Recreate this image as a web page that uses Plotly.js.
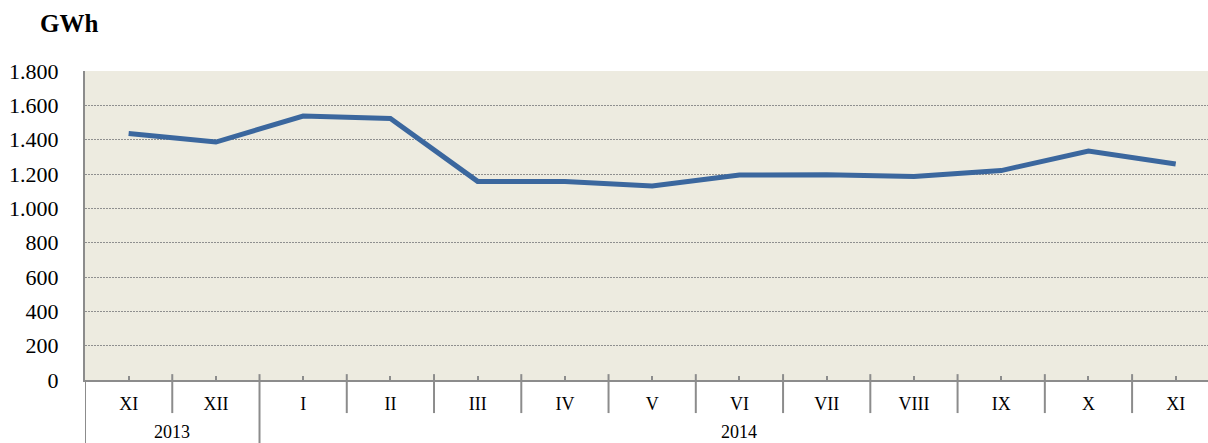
<!DOCTYPE html>
<html><head><meta charset="utf-8">
<script src="https://cdn.plot.ly/plotly-3.0.1.min.js"></script>
<style>html,body{margin:0;padding:0;background:#fff;overflow:hidden}#chart{width:1208px;height:443px}</style>
</head><body><div id="chart"></div>
<script>
const months = ['XI','XII','I','II','III','IV','V','VI','VII','VIII','IX','X','XI'];
const years = ['2013','2014'];
const yearSpans = [[0,1],[2,12]];
const values = [1436,1386,1538,1524,1157,1157,1130,1194,1196,1185,1220,1334,1258];
const yTicks = [0,200,400,600,800,1000,1200,1400,1600,1800];

const idx = months.map((m,i)=>i);
const font = '"Liberation Serif", "Times New Roman", serif';

const shapes = [];
for (let i = 0; i < months.length - 1; i++) {
  const isYear = yearSpans.some(s => s[1] === i);
  shapes.push({type:'line', xref:'x', yref:'paper', x0:i+0.5, x1:i+0.5,
    y0: 0.019, y1: isYear ? -0.21 : -0.107, line:{color:'#8c8c8c', width:2}});
}
shapes.push({type:'line', xref:'x', yref:'paper', x0:-0.5, x1:-0.5, y0:0, y1:-0.21, line:{color:'#8c8c8c', width:2}});

const annotations = years.map((y,k)=>({
  text:y, xref:'x', yref:'paper', x:(yearSpans[k][0]+yearSpans[k][1])/2, y:-0.2035,
  yanchor:'bottom', showarrow:false, borderpad:0, font:{family:font, size:18, color:'#000'}
}));

Plotly.newPlot('chart', [{
  x: idx, y: values, type:'scatter', mode:'lines',
  line:{color:'#3B679E', width:5}, hoverinfo:'skip'
}], {
  width:1208, height:443,
  margin:{l:85, r:0, t:71, b:63},
  paper_bgcolor:'#ffffff', plot_bgcolor:'#EDEBE0',
  separators:',.',
  showlegend:false,
  title:{text:'<b>GWh</b>', x:40/1208, xanchor:'left', xref:'container', y:1-23/443, yanchor:'middle', yref:'container',
    font:{family:font, size:25, color:'#000'}},
  xaxis:{range:[-0.5, 12.37], tickvals:idx, ticktext:months, ticks:'inside', ticklen:4, tickwidth:2,
    tickcolor:'#8c8c8c', showgrid:false, zeroline:false, showline:true, linecolor:'#8c8c8c', linewidth:2,
    tickfont:{family:font, size:18, color:'#000'}, ticklabelstandoff:6, fixedrange:true},
  yaxis:{range:[0,1800], tickvals:yTicks, tickformat:',d', showgrid:true, gridcolor:'#8f8f8f', griddash:'2px,1px', gridwidth:1,
    zeroline:false, showline:true, linecolor:'#8c8c8c', linewidth:2, ticks:'', ticklabelstandoff:20,
    tickfont:{family:font, size:22, color:'#000'}, fixedrange:true},
  shapes, annotations
}, {staticPlot:true});
</script></body></html>
